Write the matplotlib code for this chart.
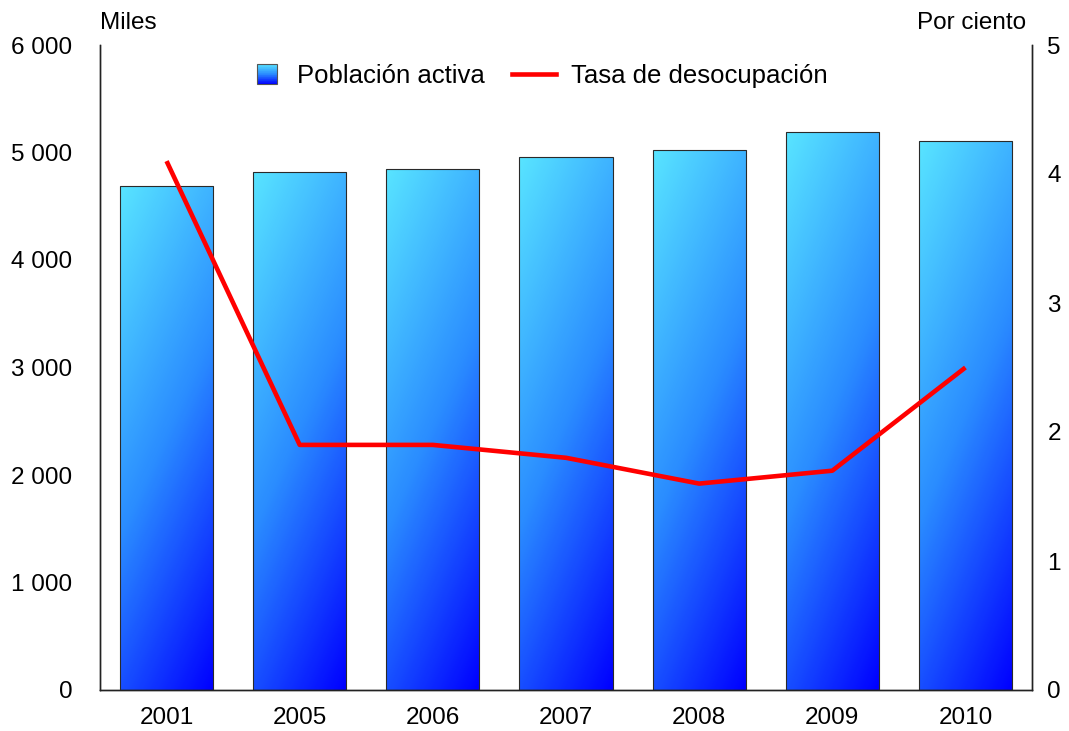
import numpy as np
import matplotlib.pyplot as plt
from matplotlib.colors import LinearSegmentedColormap
from matplotlib.legend_handler import HandlerBase
from matplotlib.patches import Rectangle
from matplotlib.lines import Line2D

plt.rcParams['font.family'] = ['Liberation Sans', 'DejaVu Sans']

years = ['2001', '2005', '2006', '2007', '2008', '2009', '2010']
poblacion = [4690, 4820, 4850, 4960, 5025, 5190, 5110]   # miles
desocupacion = [4.1, 1.9, 1.9, 1.8, 1.6, 1.7, 2.5]       # por ciento

cmap = LinearSegmentedColormap.from_list('barra', ['#58e4ff', '#2a8cff', '#0000ff'])


class GradientHandler(HandlerBase):
    # legend square drawn as stacked strips, light on top
    def create_artists(self, legend, orig_handle, xdescent, ydescent,
                       width, height, fontsize, trans):
        side = height * 1.12
        x0 = -xdescent + width - side - 0.2 * fontsize
        y0 = -ydescent - (side - height) / 2
        n = 30
        arts = []
        for i in range(n):
            c = cmap(1 - (i + 0.5) / n)
            arts.append(Rectangle((x0, y0 + side * i / n), side, side / n,
                                  facecolor=c, edgecolor='none', transform=trans))
        arts.append(Rectangle((x0, y0), side, side, facecolor='none',
                              edgecolor='#555555', lw=0.8, transform=trans))
        return arts


fig = plt.figure(figsize=(10.69, 7.31), dpi=100)
ax = fig.add_axes([100 / 1069, 41 / 731, 932 / 1069, 645 / 731])
ax2 = ax.twinx()

x = np.arange(len(years))
bars = ax.bar(x, poblacion, 0.7, facecolor='none', edgecolor='#2a2a2a', lw=0.8, zorder=3)

# diagonal gradient inside every bar
gy, gx = np.mgrid[0:1:200j, 0:1:40j]
grad = 0.72 * gy + 0.28 * gx
for b in bars:
    bx, by = b.get_x(), b.get_y()
    im = ax.imshow(grad, cmap=cmap, aspect='auto', origin='upper',
                   extent=[bx, bx + b.get_width(), by, by + b.get_height()],
                   vmin=0, vmax=1, zorder=2, interpolation='bilinear')
    im.set_clip_path(b)

ax2.plot(x, desocupacion, color='#ff0000', lw=3.3, solid_capstyle='butt')

ax.set_xlim(-0.5, len(years) - 0.5)
ax.set_ylim(0, 6000)
ax2.set_ylim(0, 5)
ax.set_xticks(x)
ax.set_xticklabels(years)
ax.set_yticks(range(0, 6001, 1000))
ax.set_yticklabels(['0', '1 000', '2 000', '3 000', '4 000', '5 000', '6 000'])
ax2.set_yticks(range(0, 6))

ax.tick_params(axis='x', length=0, pad=12, labelsize=17.5)
ax.tick_params(axis='y', length=0, pad=20, labelsize=17.5)
ax2.tick_params(axis='y', length=0, pad=11, labelsize=17.5)

for a in (ax, ax2):
    a.spines['top'].set_visible(False)
    for s in ('left', 'right', 'bottom'):
        a.spines[s].set_color('#222222')
        a.spines[s].set_linewidth(1.0)

fig.text(100 / 1069, 1 - 23 / 731, 'Miles', fontsize=17.5, ha='left', va='center')
fig.text(1026 / 1069, 1 - 23 / 731, 'Por ciento', fontsize=17.5, ha='right', va='center')

handles = [Rectangle((0, 0), 1, 1), Line2D([], [], color='#ff0000', lw=3.3)]
ax2.legend(handles, ['Población activa', 'Tasa de desocupación'],
           handler_map={Rectangle: GradientHandler()},
           loc='center', bbox_to_anchor=(533 / 1069, 1 - 76 / 731),
           bbox_transform=fig.transFigure, ncol=2, frameon=False,
           fontsize=18.5, handlelength=1.7, columnspacing=1.05, handletextpad=0.6)

fig.savefig('out.png', dpi=100)
